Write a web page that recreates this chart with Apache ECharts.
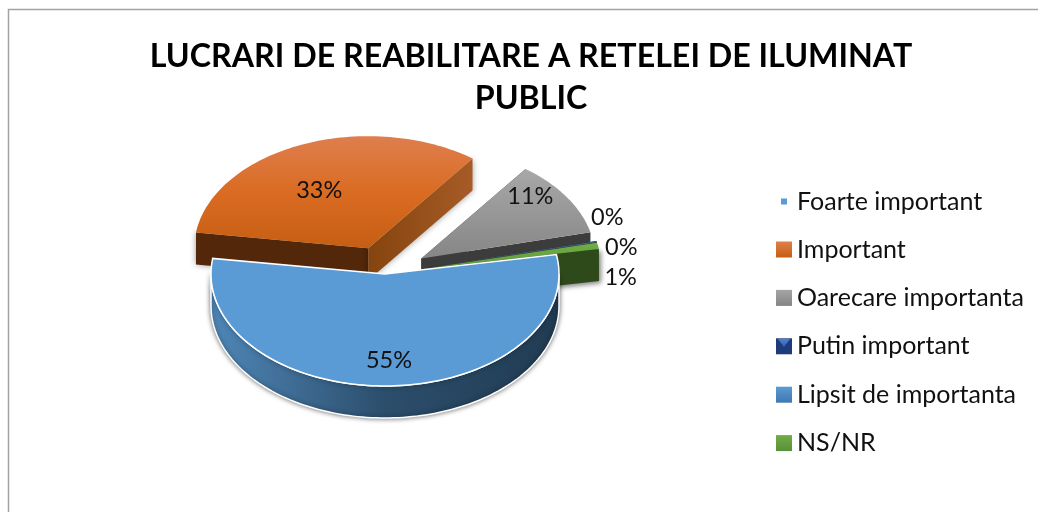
<!DOCTYPE html>
<html>
<head>
<meta charset="utf-8">
<style>html,body{margin:0;padding:0;background:#fff}#c{width:1038px;height:512px}</style>
<script src="https://cdn.jsdelivr.net/npm/echarts@6/dist/echarts.min.js"></script>
</head>
<body>
<div id="c"></div>
<script>
var titleText = 'LUCRARI DE REABILITARE A RETELEI DE ILUMINAT\nPUBLIC';
var categories = ['Foarte important', 'Important', 'Oarecare importanta', 'Putin important', 'Lipsit de importanta', 'NS/NR'];
var values = [55, 33, 11, 0.05, 0.05, 0.9];

function vGrad(a, b) { return {type:'linear',x:0,y:0,x2:0,y2:1,colorStops:[{offset:0,color:a},{offset:1,color:b}]}; }
function hGrad(a, b, c) { return {type:'linear',x:0,y:0,x2:1,y2:0,colorStops:[{offset:0,color:a},{offset:0.5,color:b},{offset:1,color:c}]}; }

var pie = {cx:385, cy:274, rx:174, ry:112, depth:32, startDeg:10, explodeFrac:0.25};
var explode = [0, 1, 1, 1, 1, 1];
var paintOrder = [10, 1, 2, 3, 4, 5];
var topFill = [
  '#5B9BD5',
  {type:'linear',x:0,y:0,x2:0,y2:1,colorStops:[{offset:0,color:'#DE7E4E'},{offset:0.5,color:'#DA6C22'},{offset:1,color:'#C55E14'}]},
  vGrad('#A8A8A8','#868686'),
  '#1F3864',
  '#4A86C0',
  vGrad('#70AD47','#5F9A3A')
];
var wallFill = [hGrad('#4F87B8','#2C4E6C','#213B52'), '#52270A', '#3C3C3C', '#3C3C3C', '#3C3C3C', '#2F4A1A'];
var startFaceFill = [wallFill[0], '#52270A', '#3C3C3C', '#3C3C3C', '#3C3C3C', '#2F4A1A'];
var endFaceFill = ['#2C4E6C', hGrad('#85440F','#96501A','#A75B26'), '#3C3C3C', '#3C3C3C', '#3C3C3C', '#2F4A1A'];
var faceShadow = [null, {shadowBlur:6, shadowColor:'rgba(0,0,0,0.4)'}, null, null, null, null];
var endFaceShadow = [null, {shadowBlur:6, shadowColor:'rgba(0,0,0,0.4)'}, null, null, null, {shadowBlur:5, shadowOffsetX:2, shadowOffsetY:2, shadowColor:'rgba(0,0,0,0.5)'}];
var labelOffset = [[-49,-58],[109,-62],[180,-50],[194,-20],[193,9]];
labelOffset.unshift([4,86]);
var legendFill = [
  '#5B9BD5', vGrad('#E07F4B','#C55E14'), vGrad('#A5A5A5','#848484'),
  '#1F3C7A', vGrad('#5B9BD5','#3F78AE'), vGrad('#70AD47','#5A8F38')
];

var total = values.reduce(function(s,v){return s+v;},0);
var spans = values.map(function(v){return v/total*360;});

function pt(c, deg, dz) {
  var r = deg*Math.PI/180;
  return [c[0]+pie.rx*Math.cos(r), c[1]-pie.ry*Math.sin(r)+(dz||0)];
}
function arcPts(c, a0, a1, dz) {
  var n = Math.max(2, Math.ceil(Math.abs(a0-a1)/1.5)), out = [];
  for (var i=0;i<=n;i++) out.push(pt(c, a0+(a1-a0)*i/n, dz));
  return out;
}
function sliceGeom(i) {
  var a0 = pie.startDeg;
  for (var k=0;k<i;k++) a0 -= spans[k];
  var a1 = a0 - spans[i], mid = (a0+a1)/2*Math.PI/180, e = explode[i]*pie.explodeFrac;
  return {a0:a0, a1:a1, c:[pie.cx+pie.rx*e*Math.cos(mid), pie.cy-pie.ry*e*Math.sin(mid)]};
}
function face(c, deg, fill, extra, z2) {
  var p = pt(c,deg), style = {fill:fill};
  if (extra) for (var k in extra) style[k]=extra[k];
  return {type:'polygon', z2:z2, shape:{points:[c,p,[p[0],p[1]+pie.depth],[c[0],c[1]+pie.depth]]}, style:style};
}
function renderSlice(i) {
  return function(params, api) {
    var g = sliceGeom(i), kids = [];
    var base = paintOrder[i]*10;
    kids.push(face(g.c, g.a0, startFaceFill[i], faceShadow[i], base));
    kids.push(face(g.c, g.a1, endFaceFill[i], endFaceShadow[i], base));
    var hi = Math.min(g.a0, 0), lo = Math.max(g.a1, -180);
    if (hi > lo) {
      var topArc = arcPts(g.c, hi, lo, 0), botArc = arcPts(g.c, lo, hi, pie.depth);
      kids.push({type:'polygon', z2:base+1, shape:{points:topArc.concat(botArc)},
        style:{fill:wallFill[i], stroke:'#fff', lineWidth:1.5, shadowBlur:5, shadowColor:'rgba(0,0,0,0.55)'}});
    }
    var top = [g.c].concat(arcPts(g.c, g.a0, g.a1, 0));
    var topStyle = {fill:topFill[i]};
    if (i===0) { topStyle.stroke='#fff'; topStyle.lineWidth=1.5; }
    kids.push({type:'polygon', z2:base+2, shape:{points:top}, style:topStyle});
    kids.push({type:'text', z2:200,
      style:{x:g.c[0]+labelOffset[i][0], y:g.c[1]+labelOffset[i][1], text:Math.round(values[i]/total*100)+'%',
        fill:'#111', font:'23.5px Lato, sans-serif', align:'center', verticalAlign:'middle'}});
    return {type:'group', children:kids};
  };
}

var series = categories.map(function(name,i){
  return {type:'custom', name:name, coordinateSystem:'none', silent:true, animation:false,
    data:[values[i]], itemStyle:{color:'#5B9BD5'}, renderItem:renderSlice(i), clip:false};
});

var legendText = {color:'#111', fontFamily:'Lato, sans-serif', fontSize:25, lineHeight:24};
var legendTextFirst = {color:'#111', fontFamily:'Lato, sans-serif', fontSize:25, lineHeight:24, padding:[0,0,0,5]};
var chart = echarts.init(document.getElementById('c'), null, {renderer:'canvas'});
chart.setOption({
  animation:false,
  backgroundColor:'#fff',
  title:{text:titleText, left:526, top:31, textAlign:'center',
    textStyle:{color:'#000', fontFamily:'Lato, sans-serif', fontWeight:'bold', fontSize:32.2, lineHeight:42}},
  legend:[
    {orient:'vertical', left:781, top:189, padding:0, itemWidth:6, itemHeight:6, itemGap:23.4, selectedMode:false,
     icon:'rect', textStyle:legendTextFirst,
     data:[{name:categories[0], itemStyle:{color:legendFill[0]}}]},
    {orient:'vertical', left:776, top:237, padding:0, itemWidth:16, itemHeight:16, itemGap:23.4, selectedMode:false,
     icon:'rect', textStyle:legendText,
     data:categories.slice(1).map(function(n,k){return {name:n, itemStyle:{color:legendFill[k+1]}};})}
  ],
  graphic:[
    {type:'polyline', silent:true, shape:{points:[[8.5,512],[8.5,9.5],[1038,9.5]]},
     style:{fill:null, stroke:'#A3A3A3', lineWidth:1.5}},
    {type:'polygon', silent:true, z:100, shape:{points:[[778,339],[790,339],[784,347]]},
     style:{fill:vGrad('#4F7FD8','#2F5DB4')}}
  ],
  series:series
});
</script>
</body>
</html>
